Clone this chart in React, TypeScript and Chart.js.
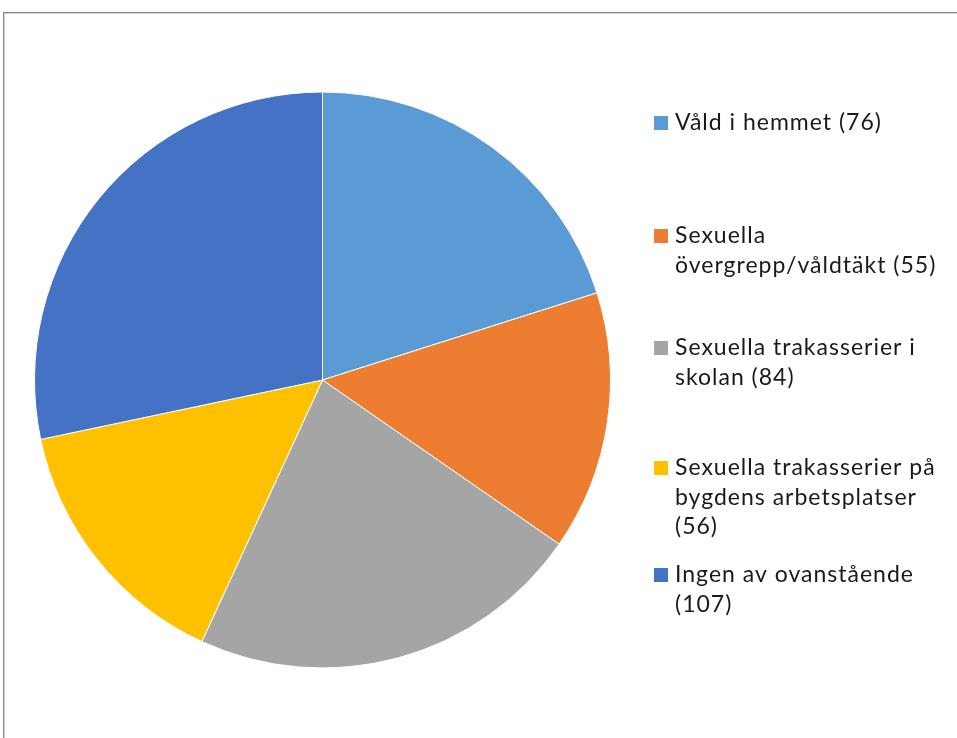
import React, { useEffect, useRef } from "react";
import { Chart, registerables } from "chart.js";

Chart.register(...registerables);

const categories = [
  "Våld i hemmet",
  "Sexuella övergrepp/våldtäkt",
  "Sexuella trakasserier i skolan",
  "Sexuella trakasserier på bygdens arbetsplatser",
  "Ingen av ovanstående",
];
const values = [76, 55, 84, 56, 107];
const colors = ["#5B9BD5", "#ED7D31", "#A5A5A5", "#FFC000", "#4472C4"];
const legendLines = [
  ["Våld i hemmet (76)"],
  ["Sexuella", "övergrepp/våldtäkt (55)"],
  ["Sexuella trakasserier i", "skolan (84)"],
  ["Sexuella trakasserier på", "bygdens arbetsplatser", "(56)"],
  ["Ingen av ovanstående", "(107)"],
];

// layout of the legend (first-line centre of each entry)
const LEGEND_Y = [123, 236, 348, 468, 575];
const LINE_H = 29.5;
const BOX_X = 654;
const BOX_SIZE = 14;
const TEXT_X = 675;
const FONT = "23px Lato, 'Open Sans', sans-serif";

const legendPlugin = {
  id: "sideLegend",
  afterDraw(chart: any) {
    const ctx = chart.ctx;
    ctx.save();
    ctx.font = FONT;
    try {
      ctx.letterSpacing = "1px";
    } catch (e) {}
    ctx.textBaseline = "middle";
    ctx.textAlign = "left";
    legendLines.forEach((lines, i) => {
      const y0 = LEGEND_Y[i];
      ctx.fillStyle = colors[i];
      ctx.fillRect(BOX_X, y0 - BOX_SIZE / 2, BOX_SIZE, BOX_SIZE);
      ctx.fillStyle = "#1a1a1a";
      lines.forEach((t, k) => ctx.fillText(t, TEXT_X, y0 + k * LINE_H));
    });
    ctx.restore();
  },
};

export default function App() {
  const ref = useRef<HTMLCanvasElement | null>(null);
  useEffect(() => {
    if (!ref.current) return;
    const chart = new Chart(ref.current, {
      type: "pie",
      data: {
        labels: categories,
        datasets: [
          {
            data: values,
            backgroundColor: colors,
            borderColor: "#ffffff",
            borderWidth: 1,
          },
        ],
      },
      options: {
        animation: false,
        responsive: false,
        layout: { padding: { left: 34, top: 91, right: 346, bottom: 69 } },
        plugins: {
          legend: { display: false },
          tooltip: { enabled: false },
        },
      },
      plugins: [legendPlugin],
    });
    return () => chart.destroy();
  }, []);
  return (
    <div
      style={{
        position: "fixed",
        left: 0,
        top: 0,
        width: 957,
        height: 738,
        background: "#ffffff",
        overflow: "hidden",
      }}
    >
      <div
        style={{
          position: "absolute",
          left: 3,
          top: 12,
          width: 980,
          height: 760,
          border: "1px solid #8a8a8a",
          boxShadow: "inset 1px 1px 0 #d4d4d4",
        }}
      />
      <canvas
        ref={ref}
        width={957}
        height={738}
        style={{ position: "absolute", left: 0, top: 0 }}
      />
    </div>
  );
}
